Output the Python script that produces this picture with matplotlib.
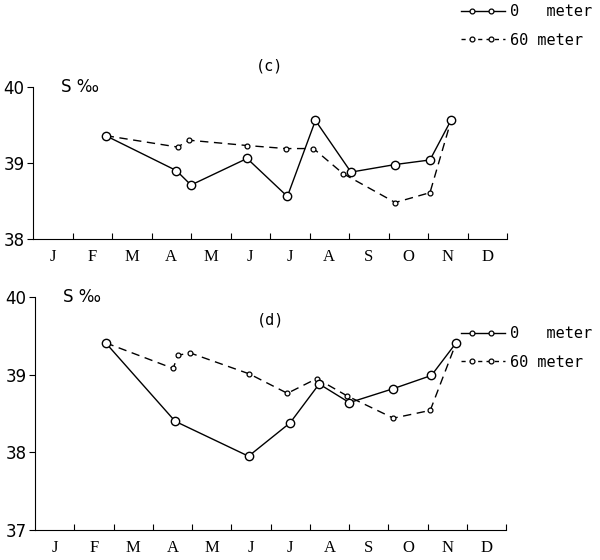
import matplotlib.pyplot as plt
from matplotlib.lines import Line2D
from matplotlib.legend_handler import HandlerBase
from matplotlib.ticker import FixedLocator, NullFormatter

months = ['J', 'F', 'M', 'A', 'M', 'J', 'J', 'A', 'S', 'O', 'N', 'D']

# (c) sampling dates in months since 1 Jan, salinity S per mille
c_t0 = [1.84, 3.63, 4.00, 5.42, 6.44, 7.15, 8.05, 9.17, 10.05, 10.59]
c_s0 = [39.36, 38.90, 38.71, 39.06, 38.56, 39.56, 38.88, 38.98, 39.04, 39.57]
c_t60 = [1.84, 3.66, 3.95, 5.42, 6.40, 7.10, 7.85, 9.17, 10.05, 10.59]
c_s60 = [39.36, 39.21, 39.30, 39.23, 39.19, 39.19, 38.86, 38.48, 38.61, 39.57]

# (d)
d_t0 = [1.80, 3.57, 5.44, 6.50, 7.24, 8.01, 9.13, 10.10, 10.73]
d_s0 = [39.41, 38.40, 37.95, 38.38, 38.88, 38.64, 38.82, 38.99, 39.41]
d_t60 = [1.80, 3.52, 3.64, 3.95, 5.46, 6.43, 7.18, 7.94, 9.13, 10.07, 10.73]
d_s60 = [39.41, 39.08, 39.25, 39.28, 39.01, 38.76, 38.95, 38.73, 38.44, 38.54, 39.41]

fig = plt.figure(figsize=(6, 5.6), dpi=100)
W, H = 600, 560


def px_axes(x0, x1, ytop, ybot):
    return fig.add_axes([x0 / W, 1 - ybot / H, (x1 - x0) / W, (ybot - ytop) / H])


ax1 = px_axes(33, 507, 87, 239)
ax2 = px_axes(35, 506, 297, 530)

solid = dict(color='black', lw=1.0, marker='o', mfc='white', mec='black',
             ms=6, mew=1.0)
dashed = dict(color='black', lw=1.0, ls=(0, (6, 4)), marker='o', mfc='white',
              mec='black', ms=3.5, mew=0.9)

for ax, t0, s0, t60, s60, lo, hi in [
        (ax1, c_t0, c_s0, c_t60, c_s60, 38, 40),
        (ax2, d_t0, d_s0, d_t60, d_s60, 37, 40)]:
    ax.plot(t60, s60, **dashed)
    ax.plot(t0, s0, **solid)
    ax.set_xlim(0, 12)
    ax.set_ylim(lo, hi)
    ax.spines['top'].set_visible(False)
    ax.spines['right'].set_visible(False)
    ax.set_yticks(range(lo, hi + 1))
    ax.tick_params(axis='y', direction='out', length=4, labelsize=12, pad=2)
    ax.xaxis.set_major_locator(FixedLocator(range(1, 13)))
    ax.xaxis.set_major_formatter(NullFormatter())
    ax.tick_params(axis='x', which='major', direction='in', length=4)
    ax.set_xticks([m + 0.5 for m in range(12)], minor=True)
    ax.set_xticklabels(months, minor=True, family='Liberation Serif', fontsize=12)
    ax.tick_params(axis='x', which='minor', length=0, pad=7)
    ax.text(0.06, 1.0, 'S ‰', transform=ax.transAxes, fontsize=12,
            va='center', ha='left')

ax1.set_title('(c)', fontsize=11, family='DejaVu Sans Mono', pad=12)
ax2.text(0.5, 0.88, '(d)', transform=ax2.transAxes, fontsize=11,
         family='DejaVu Sans Mono', ha='center')


class KeyHandler(HandlerBase):
    # full-length line with two small circles sitting on it
    def __init__(self, ls):
        super().__init__()
        self.ls = ls

    def create_artists(self, legend, orig_handle, xdescent, ydescent,
                       width, height, fontsize, trans):
        y = (height - ydescent) / 2
        x0 = -xdescent
        line = Line2D([x0, x0 + width], [y, y], color='black', lw=1.0,
                      ls=self.ls)
        marks = Line2D([x0 + 0.25 * width, x0 + 0.68 * width], [y, y],
                       ls='none', marker='o', mfc='white', mec='black',
                       ms=3.5, mew=0.9)
        line.set_transform(trans)
        marks.set_transform(trans)
        return [line, marks]


key0 = Line2D([], [])
key60 = Line2D([], [])
leg_kw = dict(frameon=False, handlelength=2.9, handletextpad=0.3,
              borderpad=0, borderaxespad=0, labelspacing=0.9,
              handler_map={key0: KeyHandler('-'),
                           key60: KeyHandler((0, (3, 3)))},
              prop=dict(family='DejaVu Sans Mono', size=11))
fig.legend([key0, key60], ['0   meter', '60 meter'], loc='upper right',
           bbox_to_anchor=(592 / W, 1 - 4 / H), **leg_kw)
fig.legend([key0, key60], ['0   meter', '60 meter'], loc='upper right',
           bbox_to_anchor=(592 / W, 1 - 326 / H), **leg_kw)

fig.savefig('out.png', dpi=100)
